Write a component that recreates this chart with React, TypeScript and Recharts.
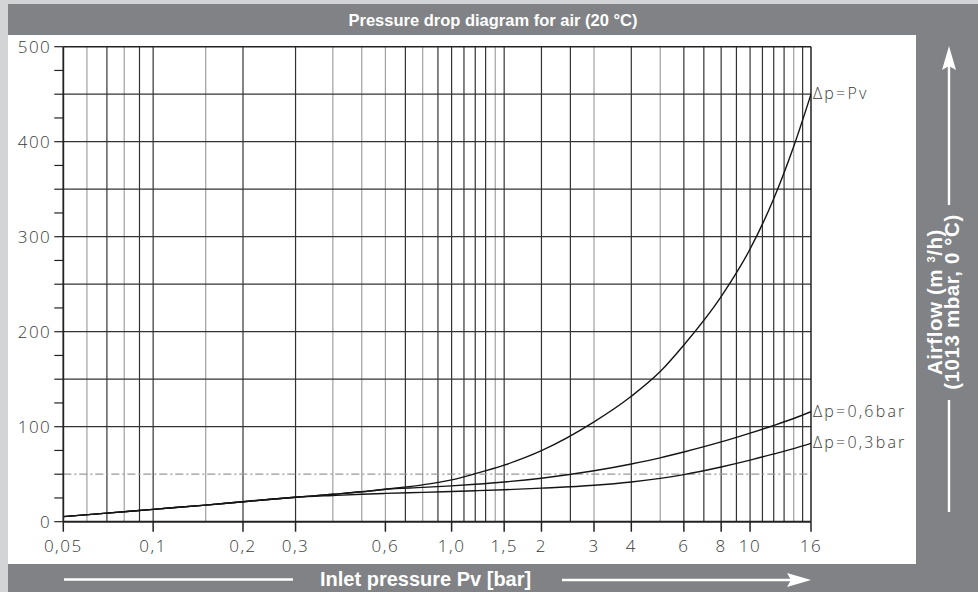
import { LineChart, Line, XAxis, YAxis, ReferenceLine, LabelList } from 'recharts';

// inlet pressure Pv [bar] where the curves were read
const pressures = [0.05, 0.07, 0.1, 0.15, 0.2, 0.3, 0.4, 0.5, 0.6, 0.8, 1, 1.2, 1.5, 2, 3, 4, 5, 6, 8, 10, 12, 14, 16];
// airflow m3/h (1013 mbar, 0 °C)
const flowPv = [5.3, 9, 13, 17.5, 21, 25.7, 28.9, 31.5, 34.2, 38.8, 44, 50.5, 59.5, 74.7, 105, 132, 158, 186, 237, 287, 340, 395, 450];
const flow06 = [5.3, 9, 13, 17.5, 21, 25.7, 28.9, 31.5, 34.2, 36.1, 37.7, 39.4, 41.8, 45.8, 53.6, 60.8, 67.2, 73.4, 84, 93.3, 101.3, 108.6, 115.8];
const flow03 = [5.3, 9, 13, 17.5, 21, 25.7, 27.6, 28.9, 29.8, 30.9, 31.8, 32.6, 33.6, 35.3, 38.3, 41.8, 45.6, 49.6, 57.6, 64.8, 71.3, 77, 82.5];
const seriesNames = ['Δp=Pv', 'Δp=0,6bar', 'Δp=0,3bar'];

const xTicks = [0.05, 0.1, 0.2, 0.3, 0.6, 1, 1.5, 2, 3, 4, 6, 8, 10, 16];
const xTickLabels = ['0,05', '0,1', '0,2', '0,3', '0,6', '1,0', '1,5', '2', '3', '4', '6', '8', '10', '16'];
const yTicks = [0, 25, 50, 75, 100, 125, 150, 175, 200, 225, 250, 275, 300, 325, 350, 375, 400, 425, 450, 475, 500];
const yLabelled = [0, 100, 200, 300, 400, 500];

const gridX = [0.06, 0.07, 0.08, 0.09, 0.1, 0.15, 0.2, 0.3, 0.4, 0.5, 0.6, 0.7, 0.8, 0.9, 1, 1.1, 1.2, 1.3, 1.4, 1.5, 2, 2.5, 3, 4, 5, 6, 7, 8, 9, 10, 11, 12, 13, 14, 15];
const gridY = [50, 100, 150, 200, 250, 300, 350, 400, 450];
// scan look: some grid lines print lighter
const lightX = [0.06, 0.08, 0.15, 0.4, 0.5, 0.6, 0.8, 1.4, 3, 5, 14];

const data = pressures.map((p, i) => ({ p, pv: flowPv[i], d06: flow06[i], d03: flow03[i] }));

const panel = '#808285';
const tickFont = { fontFamily: '"Open Sans", "DejaVu Sans", sans-serif', fontSize: 17, fontWeight: 300, fill: '#3a3a3a' };

const endLabel = (name: string) => (props: any) => {
  if (props.index !== pressures.length - 1) return null;
  return (
    <text x={props.x + 2} y={props.y - 1} dominantBaseline="central" style={{ ...tickFont, fontSize: 16, letterSpacing: 2.2 }}>
      {name}
    </text>
  );
};

export default function App() {
  return (
    <div style={{ position: 'absolute', left: 0, top: 0, width: 978, height: 592, background: '#d3d4d6', overflow: 'hidden', fontFamily: '"Liberation Sans", Arial, sans-serif' }}>
      <div style={{ position: 'absolute', left: 8, top: 4, right: 0, bottom: 0, background: panel }} />
      <div style={{ position: 'absolute', left: 8, top: 35, width: 908, height: 529, background: '#fff' }} />
      <div style={{ position: 'absolute', left: 8, right: 0, top: 4, height: 31, lineHeight: '32px', textAlign: 'center', color: '#fff', fontSize: 16.5, fontWeight: 700 }}>
        Pressure drop diagram for air (20 °C)
      </div>

      <div style={{ position: 'absolute', left: 0, top: 0 }}>
        <LineChart width={978} height={592} data={data} margin={{ top: 46.7, right: 167, bottom: 40.3, left: 8.3 }}>
          {gridX.map((v) => (
            <ReferenceLine key={'x' + v} x={v} stroke={lightX.includes(v) ? '#a0a0a0' : '#333'} strokeWidth={1.2} ifOverflow="visible" />
          ))}
          {gridY.map((v) => (
            <ReferenceLine key={'y' + v} y={v} stroke={v === 50 ? '#999' : '#333'} strokeDasharray={v === 50 ? '8 3 2 3' : undefined} strokeWidth={1.2} />
          ))}
          <ReferenceLine y={500} stroke="#222" strokeWidth={1.5} />
          <ReferenceLine x={16} stroke="#222" strokeWidth={1.5} />
          <XAxis
            dataKey="p"
            type="number"
            scale="log"
            domain={[0.05, 16]}
            allowDataOverflow
            ticks={xTicks}
            tickFormatter={(v: number) => xTickLabels[xTicks.indexOf(v)] ?? ''}
            tick={{ ...tickFont, letterSpacing: 1.5 }}
            tickSize={10}
            tickMargin={8}
            tickLine={{ stroke: '#222', strokeWidth: 1.5 }}
            axisLine={{ stroke: '#222', strokeWidth: 2 }}
            height={30}
            interval={0}
          />
          <YAxis
            type="number"
            domain={[0, 500]}
            ticks={yTicks}
            tickFormatter={(v: number) => (yLabelled.includes(v) ? String(v) : '')}
            tick={{ ...tickFont, letterSpacing: 1.5 }}
            tickSize={9}
            tickMargin={3}
            tickLine={{ stroke: '#222', strokeWidth: 1.2 }}
            axisLine={{ stroke: '#222', strokeWidth: 1.8 }}
            width={55}
            interval={0}
          />
          <Line dataKey="pv" stroke="#151515" strokeWidth={1.4} dot={false} isAnimationActive={false} type="monotone">
            <LabelList content={endLabel(seriesNames[0])} />
          </Line>
          <Line dataKey="d06" stroke="#151515" strokeWidth={1.4} dot={false} isAnimationActive={false} type="monotone">
            <LabelList content={endLabel(seriesNames[1])} />
          </Line>
          <Line dataKey="d03" stroke="#151515" strokeWidth={1.4} dot={false} isAnimationActive={false} type="monotone">
            <LabelList content={endLabel(seriesNames[2])} />
          </Line>
        </LineChart>
      </div>

      {/* right panel: vertical axis title with arrow */}
      <svg style={{ position: 'absolute', left: 916, top: 35, width: 62, height: 529 }} width={62} height={529}>
        <line x1={33} y1={30} x2={33} y2={170} stroke="#fff" strokeWidth={2.4} />
        <path d="M33 11 L40 35 L33 31 L26 35 Z" fill="#fff" />
        <line x1={33} y1={365} x2={33} y2={477} stroke="#fff" strokeWidth={2.4} />
      </svg>
      <div style={{ position: 'absolute', left: 943, top: 302, transform: 'translate(-50%, -50%) rotate(-90deg)', color: '#fff', fontSize: 20.5, fontWeight: 700, lineHeight: '17px', letterSpacing: 0.6, textAlign: 'center', whiteSpace: 'nowrap' }}>
        Airflow (m <sup style={{ fontSize: 11, verticalAlign: 'top', lineHeight: '10px' }}>3</sup>/h)
        <br />
        (1013 mbar, 0 °C)
      </div>

      {/* bottom panel: horizontal axis title with arrows */}
      <svg style={{ position: 'absolute', left: 0, top: 564, width: 978, height: 28 }} width={978} height={28}>
        <line x1={64} y1={15.5} x2={293} y2={15.5} stroke="#fff" strokeWidth={2.4} />
        <line x1={562} y1={16} x2={795} y2={16} stroke="#fff" strokeWidth={2.4} />
        <path d="M811 16 L787 9 L791 16 L787 23 Z" fill="#fff" />
      </svg>
      <div style={{ position: 'absolute', left: 320, top: 564, height: 28, lineHeight: '30px', color: '#fff', fontSize: 20, fontWeight: 700, whiteSpace: 'nowrap' }}>
        Inlet pressure Pv [bar]
      </div>
    </div>
  );
}
